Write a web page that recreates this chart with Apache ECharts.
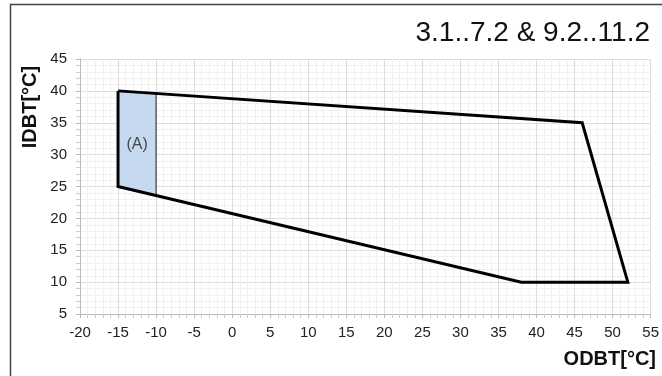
<!DOCTYPE html>
<html lang="en">
<head>
    <meta charset="UTF-8">
    <title>ODBT / IDBT</title>
    <script src="https://cdn.jsdelivr.net/npm/echarts@6/dist/echarts.min.js"></script>
    <style>
        html, body {margin: 0; padding: 0; background: #fff;}
        #main {width: 662px; height: 376px;}
    </style>
</head>
<body>
<div id="main"></div>

<script>
    // operating envelope corners (ODBT, IDBT), closed
    var envelope = [[-15, 40], [46, 35], [52, 10], [38, 10], [-15, 25], [-15, 40]];
    // shaded zone (A)
    var zoneTop = [[-15, 40], [-10, 39.6]];
    var zoneBottom = [[-15, 25], [-10, 23.6]];
    var zoneEdge = [[-10, 23.6], [-10, 39.6]];
    var zoneLabel = [[-12.5, 31.5]];

    var titleText = '3.1..7.2 & 9.2..11.2';
    var xName = 'ODBT[°C]';
    var yName = 'IDBT[°C]';

    var myChart = echarts.init(document.getElementById('main'));

    var zonePoly = zoneTop.concat(zoneBottom.slice().reverse());
    var font = 'Liberation Sans, Arial, sans-serif';

    option = {
        animation: false,
        textStyle: {fontFamily: font},
        title: {
            text: titleText,
            right: 7,
            top: 14,
            textStyle: {fontSize: 28, fontWeight: 'normal', color: '#111'}
        },
        grid: {left: 80, right: 8, top: 59, bottom: 62},
        graphic: [
            {
                type: 'polyline',
                shape: {points: [[10.5, 376], [10.5, 4.5], [662, 4.5]]},
                style: {stroke: '#444', lineWidth: 1.5, fill: null}
            },
            {
                type: 'text',
                x: 30, y: 107,
                rotation: Math.PI / 2,
                style: {
                    text: yName, font: 'bold 20px ' + font, fill: '#111',
                    align: 'center', verticalAlign: 'middle'
                }
            },
            {
                type: 'text',
                x: 656, y: 359,
                style: {
                    text: xName, font: 'bold 20px ' + font, fill: '#111',
                    align: 'right', verticalAlign: 'middle'
                }
            }
        ],
        xAxis: {
            type: 'value',
            min: -20,
            max: 55,
            interval: 5,
            axisLine: {show: true, onZero: false, lineStyle: {color: '#bbb'}},
            axisTick: {show: true, length: 4, lineStyle: {color: '#bbb'}},
            minorTick: {show: true, splitNumber: 5, length: 4, lineStyle: {color: '#ccc'}},
            axisLabel: {fontSize: 15, color: '#222', margin: 11},
            splitLine: {show: true, lineStyle: {color: '#dcdcdc'}},
            minorSplitLine: {show: true, lineStyle: {color: '#f0f0f0'}}
        },
        yAxis: {
            type: 'value',
            min: 5,
            max: 45,
            interval: 5,
            axisLine: {show: true, onZero: false, lineStyle: {color: '#bbb'}},
            axisTick: {show: true, length: 4, lineStyle: {color: '#bbb'}},
            minorTick: {show: true, splitNumber: 5, length: 4, lineStyle: {color: '#ccc'}},
            axisLabel: {fontSize: 15, color: '#222', margin: 13},
            splitLine: {show: true, lineStyle: {color: '#dcdcdc'}},
            minorSplitLine: {show: true, lineStyle: {color: '#f0f0f0'}}
        },
        series: [
            {
                type: 'custom',
                silent: true,
                data: [0],
                renderItem: function (params, api) {
                    var pts = zonePoly.map(function (p) { return api.coord(p); });
                    return {
                        type: 'polygon',
                        shape: {points: pts},
                        style: {fill: '#c6d9f0', stroke: null}
                    };
                },
                z: 1
            },
            {
                type: 'line',
                data: zoneEdge,
                symbol: 'none',
                lineStyle: {color: '#222', width: 1},
                z: 2
            },
            {
                type: 'scatter',
                data: zoneLabel,
                symbolSize: 0,
                label: {
                    show: true, formatter: '(A)', position: 'inside',
                    fontSize: 16, color: '#222'
                },
                z: 3
            },
            {
                type: 'line',
                data: envelope,
                symbol: 'none',
                lineStyle: {color: '#000', width: 3, join: 'miter'},
                z: 4
            }
        ]
    };

    myChart.setOption(option, true);
</script>
</body>
</html>
